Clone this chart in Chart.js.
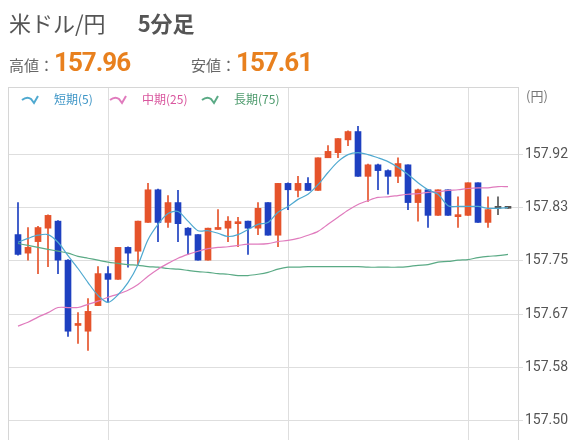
<!DOCTYPE html>
<html lang="ja">
<head>
<meta charset="utf-8">
<script src="https://cdn.jsdelivr.net/npm/chart.js@4.4.1/dist/chart.umd.min.js"></script>
<style>
html, body { margin: 0; padding: 0; background: #fff; overflow: hidden; }
#wrap { position: relative; width: 576px; height: 440px; font-family: "Noto Sans CJK JP", "Noto Sans", sans-serif; }
#title { position: absolute; left: 9px; top: 11px; font-size: 22px; line-height: 22px; color: #555; white-space: nowrap; }
#title b { margin-left: 32px; }
.hl { position: absolute; top: 48px; font-size: 15px; line-height: 28px; color: #666; white-space: nowrap; }
.hl span { font-family: Roboto, sans-serif; font-weight: bold; font-size: 26px; color: #e8801e; letter-spacing: -1px; }
#unit { position: absolute; left: 526px; top: 86px; font-size: 13px; color: #777; }
canvas { position: absolute; left: 0; top: 0; }
</style>
</head>
<body>
<div id="wrap">
  <canvas id="fxChart" width="576" height="440"></canvas>
  <div id="title">米ドル/円<b>5分足</b></div>
  <div class="hl" style="left:9px">高値：<span>157.96</span></div>
  <div class="hl" style="left:191px">安値：<span>157.61</span></div>
  <div id="unit">(円)</div>
</div>
<script>
// 5-minute candles
var opens  = [157.791,157.762,157.780,157.801,157.812,157.751,157.649,157.640,157.680,157.730,
              157.721,157.771,157.765,157.810,157.861,157.810,157.841,157.801,157.791,157.751,
              157.799,157.801,157.808,157.812,157.801,157.841,157.790,157.871,157.860,157.871,
              157.860,157.911,157.919,157.939,157.952,157.882,157.900,157.891,157.882,157.900,
              157.841,157.861,157.821,157.861,157.819,157.821,157.872,157.810,157.832,157.832];
var highs  = [157.841,157.802,157.804,157.822,157.813,157.752,157.669,157.691,157.741,157.741,
              157.771,157.772,157.812,157.871,157.862,157.852,157.860,157.802,157.791,157.801,
              157.830,157.819,157.818,157.812,157.841,157.841,157.871,157.872,157.882,157.880,
              157.911,157.930,157.941,157.953,157.960,157.901,157.901,157.892,157.911,157.900,
              157.862,157.861,157.861,157.861,157.850,157.872,157.872,157.850,157.850,157.832];
var lows   = [157.759,157.751,157.730,157.741,157.730,157.632,157.621,157.610,157.680,157.685,
              157.721,157.740,157.743,157.810,157.780,157.802,157.780,157.760,157.751,157.751,
              157.799,157.780,157.772,157.760,157.791,157.790,157.772,157.830,157.850,157.860,
              157.860,157.911,157.911,157.930,157.882,157.843,157.861,157.854,157.872,157.830,
              157.812,157.802,157.821,157.821,157.802,157.821,157.810,157.802,157.822,157.832];
var closes = [157.760,157.771,157.802,157.821,157.751,157.640,157.652,157.671,157.730,157.721,
              157.771,157.762,157.812,157.861,157.810,157.841,157.808,157.790,157.751,157.801,
              157.802,157.812,157.811,157.801,157.832,157.790,157.871,157.861,157.871,157.860,
              157.911,157.921,157.941,157.952,157.882,157.900,157.891,157.882,157.902,157.841,
              157.861,157.821,157.861,157.821,157.822,157.872,157.810,157.830,157.832,157.832];

// moving averages as drawn
var shortMA = [157.779,157.785,157.790,157.791,157.779,157.758,157.738,157.716,157.696,157.685,
               157.697,157.716,157.744,157.783,157.807,157.824,157.827,157.812,157.797,157.797,
               157.793,157.788,157.791,157.799,157.807,157.810,157.826,157.835,157.846,157.854,
               157.869,157.888,157.905,157.916,157.919,157.916,157.911,157.905,157.896,157.885,
               157.872,157.861,157.854,157.836,157.835,157.835,157.835,157.832,157.832,157.833];
var midMA   = [157.648,157.654,157.662,157.669,157.677,157.677,157.677,157.682,157.687,157.693,
               157.698,157.704,157.713,157.726,157.737,157.746,157.754,157.760,157.765,157.769,
               157.771,157.772,157.774,157.776,157.776,157.777,157.780,157.782,157.785,157.790,
               157.796,157.807,157.818,157.829,157.838,157.844,157.849,157.850,157.852,157.854,
               157.855,157.857,157.858,157.860,157.861,157.863,157.864,157.864,157.866,157.866];
var longMA  = [157.777,157.774,157.771,157.768,157.765,157.762,157.757,157.754,157.751,157.748,
               157.746,157.744,157.743,157.741,157.740,157.738,157.737,157.735,157.733,157.732,
               157.730,157.729,157.727,157.727,157.729,157.732,157.737,157.740,157.740,157.741,
               157.741,157.741,157.741,157.741,157.741,157.740,157.740,157.740,157.740,157.741,
               157.743,157.744,157.748,157.749,157.751,157.752,157.755,157.757,157.758,157.760];

var maLabels = ['短期(5)', '中期(25)', '長期(75)'];
var yTicks = [157.5, 157.5833, 157.6667, 157.75, 157.8333, 157.9167];
var xGridTicks = [9, 27, 45];

var UP = '#e5532b', DOWN = '#1e40c0', FLAT = '#555555';
function candleColor(i) {
    if (closes[i] > opens[i]) return UP;
    if (closes[i] < opens[i]) return DOWN;
    return FLAT;
}
function pts(arr) { return arr.map(function(v, i) { return {x: i, y: v}; }); }
function noPad(s) { s.paddingTop = 0; s.paddingBottom = 0; s.paddingLeft = 0; s.paddingRight = 0; }

var frame = {
    id: 'frame',
    beforeDatasetsDraw: function(chart) {
        var a = chart.chartArea, c = chart.ctx;
        c.save();
        c.strokeStyle = '#d6d6d6';
        c.lineWidth = 1;
        c.strokeRect(a.left + 0.5, a.top + 0.5, a.right - a.left, a.bottom - a.top + 10);
        c.restore();
    }
};

var maLegend = {
    id: 'maLegend',
    afterDraw: function(chart) {
        var c = chart.ctx;
        var xs = [22, 110, 202];
        var textColors = ['#3d95c6', '#d9569e', '#4c9a6c'];
        var y = 99;
        c.save();
        c.font = '12px "Noto Sans CJK JP", sans-serif';
        c.textBaseline = 'middle';
        for (var k = 0; k < 3; k++) {
            var x = xs[k];
            c.strokeStyle = chart.data.datasets[k].borderColor;
            c.lineWidth = 2;
            c.beginPath();
            c.moveTo(x, y + 1);
            c.quadraticCurveTo(x + 5, y - 3, x + 9, y);
            c.lineTo(x + 12, y + 4);
            c.lineTo(x + 16, y - 3);
            c.stroke();
            c.fillStyle = textColors[k];
            c.fillText(maLabels[k], x + 32, y);
        }
        c.restore();
    }
};

var ctx = document.getElementById('fxChart');
var fxChart = new Chart(ctx, {
    type: 'bar',
    data: {
        datasets: [
            { type: 'line', label: maLabels[0], data: pts(shortMA), borderColor: '#4fa9d0', borderWidth: 1.2, pointRadius: 0, tension: 0.3, order: 0 },
            { type: 'line', label: maLabels[1], data: pts(midMA), borderColor: '#e07bbd', borderWidth: 1.2, pointRadius: 0, tension: 0.3, order: 0 },
            { type: 'line', label: maLabels[2], data: pts(longMA), borderColor: '#5aaa85', borderWidth: 1.2, pointRadius: 0, tension: 0.3, order: 0 },
            {
                label: 'wick',
                data: lows.map(function(l, i) { return {x: i, y: [l, highs[i]]}; }),
                backgroundColor: function(c) { return candleColor(c.dataIndex); },
                barThickness: 1,
                grouped: false,
                order: 2
            },
            {
                label: 'body',
                data: opens.map(function(o, i) { return {x: i, y: [o, closes[i]]}; }),
                backgroundColor: function(c) { return candleColor(c.dataIndex); },
                barThickness: 6,
                minBarLength: 2,
                grouped: false,
                order: 1
            }
        ]
    },
    options: {
        responsive: false,
        animation: false,
        devicePixelRatio: 1,
        layout: { padding: { top: 87, left: 8, right: 0, bottom: 0 } },
        plugins: { legend: { display: false }, tooltip: { enabled: false } },
        scales: {
            x: {
                type: 'linear',
                min: -1,
                max: 50,
                offset: false,
                afterBuildTicks: function(s) { s.ticks = xGridTicks.map(function(v) { return {value: v}; }); },
                afterFit: function(s) { s.height = 0; noPad(s); },
                ticks: { display: false },
                grid: { color: '#dedede', drawTicks: false, offset: false },
                border: { display: false }
            },
            y: {
                type: 'linear',
                position: 'right',
                min: 157.470,
                max: 158.0216,
                afterBuildTicks: function(s) { s.ticks = yTicks.map(function(v) { return {value: v}; }); },
                afterFit: function(s) { s.width = 58; noPad(s); },
                ticks: {
                    callback: function(v) { return v.toFixed(2); },
                    color: '#555',
                    padding: 2,
                    font: { family: 'Roboto, sans-serif', size: 14 }
                },
                grid: { color: '#dedede', tickLength: 5 },
                border: { color: '#d6d6d6' }
            }
        }
    },
    plugins: [frame, maLegend]
});
</script>
</body>
</html>
